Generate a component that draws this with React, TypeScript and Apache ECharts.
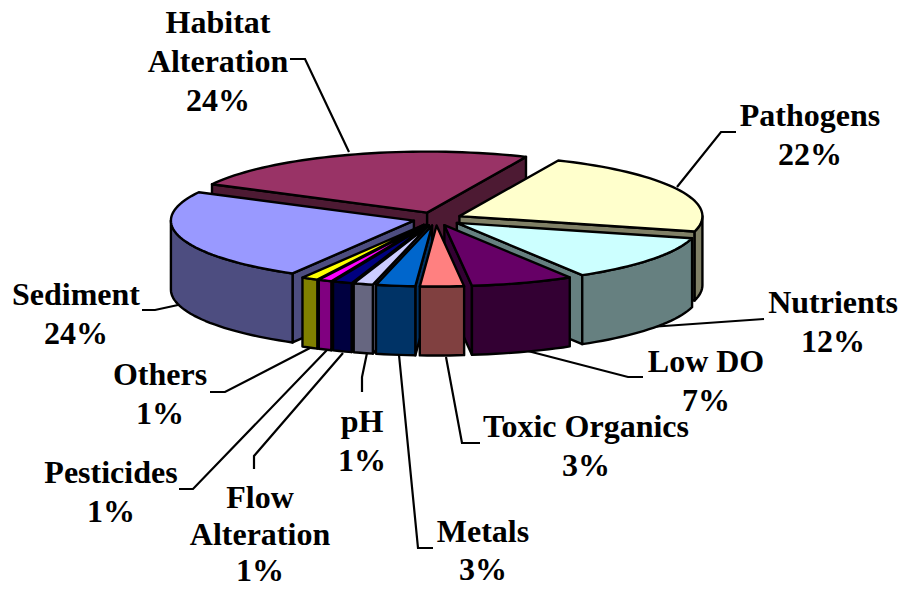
import React, { useEffect, useRef } from "react";
import * as echarts from "echarts";

const categories = ["Pathogens", "Nutrients", "Low DO", "Toxic Organics", "Metals", "pH", "Flow Alteration", "Pesticides", "Others", "Sediment", "Habitat Alteration"];
const values = [22.3, 12.3, 6.8, 2.9, 2.6, 1.3, 1.3, 0.9, 1.1, 24.3, 23.9];
const topColors = ["#FFFFCC", "#CCFFFF", "#660066", "#FF8080", "#0066CC", "#CCCCFF", "#000080", "#FF00FF", "#FFFF00", "#9999FF", "#993366"];
const wallColors = ["#808066", "#668080", "#330033", "#804040", "#003366", "#666680", "#000040", "#800080", "#808000", "#4D4D80", "#4D1A33"];
const explodeBy = [26, 26, 26, 26, 26, 26, 26, 26, 26, 23, 27];
// label lines broken for display, centre of the block
const labelLines = [["Pathogens"], ["Nutrients"], ["Low DO"], ["Toxic Organics"], ["Metals"], ["pH"], ["Flow", "Alteration"], ["Pesticides"], ["Others"], ["Sediment"], ["Habitat", "Alteration"]];
const labelPos = [[810, 115], [833, 302], [706, 361], [586, 426], [483, 531], [362, 421], [260, 497], [111, 472], [160, 374], [76, 294], [218, 22]];
const lineHeights = [39, 39, 38.5, 38.5, 38, 38.5, 36.5, 38.5, 38.5, 39, 39];
const leaders = [
  [[736, 132], [721, 132], [677, 187]],
  [[764, 319], [650, 327]],
  [[643, 377], [628, 377], [524, 350]],
  [[480, 443], [462, 443], [446, 357]],
  [[433, 548], [418, 548], [399, 355]],
  [[362, 392], [362, 377], [367, 353]],
  [[254, 469], [254, 456], [343, 353]],
  [[179, 489], [193, 489], [327, 350]],
  [[210, 392], [225, 392], [310, 348]],
  [[142, 310], [155, 310], [178, 305]],
  [[290, 59], [305, 59], [349, 152]],
];

const START_ANGLE = 24;
const CX = 436, CY = 219, RX = 243, RY = 61, DEPTH = 69;
const total = values.reduce((a, b) => a + b, 0);
const rad = (d: number) => (d * Math.PI) / 180;

const slices = (() => {
  let a = START_ANGLE;
  return values.map((v) => {
    const start = a;
    const end = a + (v / total) * 360;
    a = end;
    return { start, end, mid: (start + end) / 2 };
  });
})();
const depthOrder = slices
  .map((s, i) => ({ i, k: -Math.cos(rad(s.mid)) }))
  .sort((p, q) => p.k - q.k)
  .map((p) => p.i);

function renderSlice(params: any) {
  const i = params.dataIndex;
  const s = slices[i];
  const e = explodeBy[i];
  const ox = CX + e * Math.sin(rad(s.mid));
  const oy = CY - e * (RY / RX) * Math.cos(rad(s.mid));
  const pt = (d: number): number[] => [ox + RX * Math.sin(rad(d)), oy - RY * Math.cos(rad(d))];
  const rank = depthOrder.indexOf(i) * 10 + 10;
  const lineStyle = { stroke: "#000", lineWidth: 2.4, lineJoin: "round" };
  const n = Math.max(4, Math.ceil((s.end - s.start) / 2));
  const arc: number[][] = [];
  for (let k = 0; k <= n; k++) arc.push(pt(s.start + ((s.end - s.start) * k) / n));
  const children: any[] = [];
  const wall = (p: number[]) => ({
    type: "polygon",
    z2: rank,
    shape: { points: [[ox, oy], p, [p[0], p[1] + DEPTH], [ox, oy + DEPTH]] },
    style: { fill: wallColors[i], ...lineStyle },
  });
  if (Math.sin(rad(s.start)) < 0) children.push(wall(pt(s.start)));
  if (Math.sin(rad(s.end)) > 0) children.push(wall(pt(s.end)));
  // outer curved wall: only the near half of the circle is visible
  const from = Math.max(s.start, 90), to = Math.min(s.end, 270);
  if (to > from) {
    const m = Math.max(3, Math.ceil((to - from) / 2));
    const up: number[][] = [];
    for (let k = 0; k <= m; k++) up.push(pt(from + ((to - from) * k) / m));
    const down = up.slice().reverse().map((p) => [p[0], p[1] + DEPTH]);
    children.push({
      type: "polygon",
      z2: rank + 1,
      shape: { points: up.concat(down) },
      style: { fill: wallColors[i], ...lineStyle },
    });
  }
  children.push({
    type: "polygon",
    z2: rank + 2,
    shape: { points: [[ox, oy], ...arc] },
    style: { fill: topColors[i], ...lineStyle },
  });
  return { type: "group", children };
}

const FONT_SIZE = 32;
const labelGraphics = categories.flatMap((cat, i) => {
  const lines = [...labelLines[i], `${Math.round(values[i])}%`];
  return lines.map((t, j) => ({
    type: "text",
    z: 5,
    x: labelPos[i][0],
    y: labelPos[i][1] + j * lineHeights[i],
    style: {
      text: t,
      fill: "#000",
      font: `bold ${FONT_SIZE}px "Liberation Serif"`,
      textAlign: "center",
      textVerticalAlign: "middle",
    },
  }));
});
const leaderGraphics = leaders.map((pts) => ({
  type: "polyline",
  z: 0,
  shape: { points: pts },
  style: { stroke: "#000", lineWidth: 2.2, fill: "none" },
}));

export default function App() {
  const ref = useRef<HTMLDivElement>(null);
  useEffect(() => {
    const chart = echarts.init(ref.current!, undefined, { renderer: "svg" });
    chart.setOption({
      animation: false,
      backgroundColor: "#fff",
      graphic: { elements: [...leaderGraphics, ...labelGraphics] },
      series: [
        {
          type: "custom",
          coordinateSystem: "none",
          z: 2,
          renderItem: renderSlice,
          data: categories.map((name, i) => ({ name, value: values[i] })),
        },
      ],
    });
    return () => chart.dispose();
  }, []);
  return <div ref={ref} style={{ position: "fixed", left: 0, top: 0, width: 901, height: 589 }} />;
}
